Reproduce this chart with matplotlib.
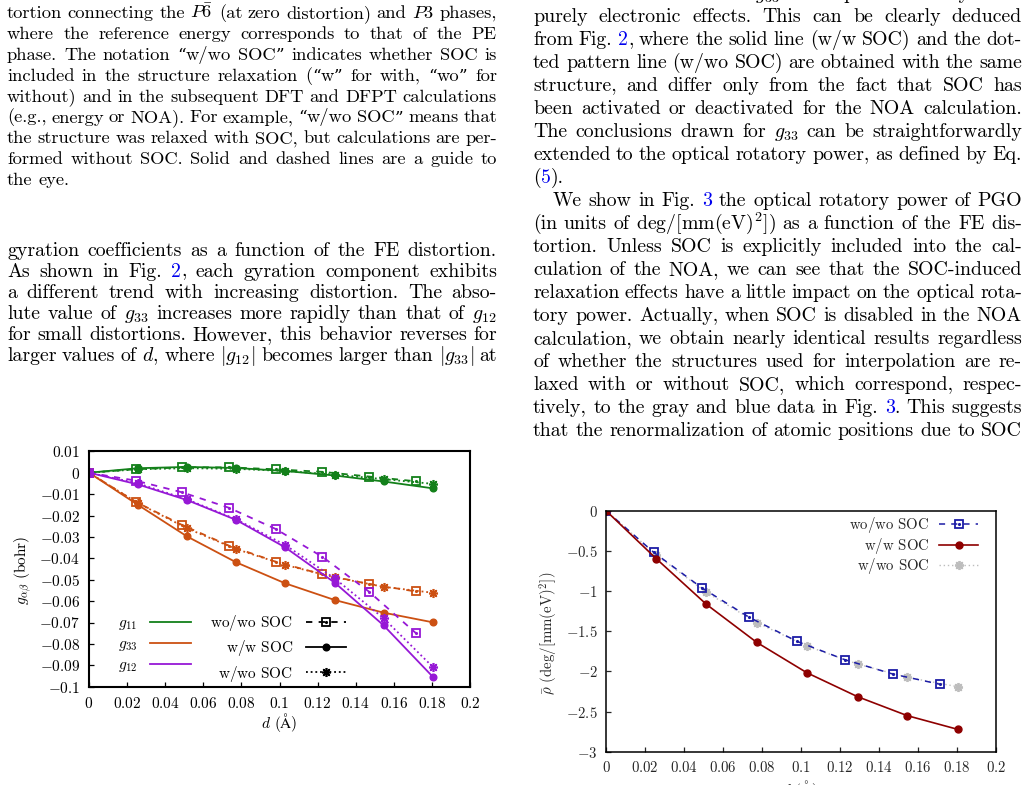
import re

import matplotlib
matplotlib.use("Agg")
import matplotlib.pyplot as plt
import numpy as np
from matplotlib.lines import Line2D
from matplotlib.ticker import FixedLocator, FuncFormatter

W, H = 1029, 785
plt.rcParams["mathtext.fontset"] = "cm"
plt.rcParams["font.family"] = ["cmr10", "DejaVu Serif"]
plt.rcParams["axes.unicode_minus"] = False

INK = "#000000"
LINK = "#0000ee"

# ---- data ----
d_wowo = [0, 0.0245, 0.049, 0.0735, 0.098, 0.1225, 0.147, 0.1715]
d_ww = [0, 0.0258, 0.0515, 0.0773, 0.103, 0.129, 0.1546, 0.1804]

g11_wowo = [0, 0.0016, 0.0025, 0.0025, 0.0016, 0.0004, -0.0018, -0.0040]
g11_ww = [0, 0.0021, 0.0027, 0.0022, 0.0008, -0.0013, -0.0041, -0.0073]
g11_wwo = [0, 0.0016, 0.0021, 0.0018, 0.0008, -0.0009, -0.0030, -0.0052]
g33_wowo = [0, -0.0136, -0.0245, -0.0341, -0.0416, -0.0475, -0.0520, -0.0555]
g33_ww = [0, -0.0151, -0.0298, -0.0419, -0.0517, -0.0595, -0.0654, -0.0699]
g33_wwo = [0, -0.0143, -0.0260, -0.0357, -0.0431, -0.0489, -0.0533, -0.0561]
g12_wowo = [0, -0.0037, -0.0092, -0.0164, -0.0263, -0.0393, -0.0556, -0.0749]
g12_ww = [0, -0.0055, -0.0128, -0.0221, -0.0349, -0.0514, -0.0713, -0.0953]
g12_wwo = [0, -0.0050, -0.0125, -0.0218, -0.0338, -0.0494, -0.0680, -0.0907]

rho_wowo = [0, -0.519, -0.958, -1.328, -1.627, -1.855, -2.033, -2.162]
rho_ww = [0, -0.598, -1.166, -1.639, -2.017, -2.315, -2.552, -2.722]
rho_wwo = [0, -0.552, -1.017, -1.394, -1.685, -1.909, -2.075, -2.191]

gyr_labels = [r"$g_{11}$", r"$g_{33}$", r"$g_{12}$"]
gyr_colors = ["#13801a", "#cc5012", "#9618d6"]
soc_labels = [r"wo$/$wo SOC", r"w$/$w SOC", r"w$/$wo SOC"]
d_label = r"$d$ ($\mathrm{\AA}$)"

# ---- page text ----
left_caption = [
    r"tortion connecting the $P\bar{6}$ (at zero distortion) and $P3$ phases,",
    "where the reference energy corresponds to that of the PE",
    "phase. The notation “w/wo SOC” indicates whether SOC is",
    "included in the structure relaxation (“w” for with, “wo” for",
    "without) and in the subsequent DFT and DFPT calculations",
    "(e.g., energy or NOA). For example, “w/wo SOC” means that",
    "the structure was relaxed with SOC, but calculations are per-",
    "formed without SOC. Solid and dashed lines are a guide to",
    "the eye.",
]
left_body = [
    "gyration coefficients as a function of the FE distortion.",
    "As shown in Fig. #2#, each gyration component exhibits",
    "a different trend with increasing distortion. The abso-",
    r"lute value of $g_{33}$ increases more rapidly than that of $g_{12}$",
    "for small distortions. However, this behavior reverses for",
    r"larger values of $d$, where $|g_{12}|$ becomes larger than $|g_{33}|$ at",
]
right_body = [
    r"mated contributions in $g_{33}$ arise predominantly from",
    "purely electronic effects. This can be clearly deduced",
    "from Fig. #2#, where the solid line (w/w SOC) and the dot-",
    "ted pattern line (w/wo SOC) are obtained with the same",
    "structure, and differ only from the fact that SOC has",
    "been activated or deactivated for the NOA calculation.",
    r"The conclusions drawn for $g_{33}$ can be straightforwardly",
    "extended to the optical rotatory power, as defined by Eq.",
    "(#5#).",
    "We show in Fig. #3# the optical rotatory power of PGO",
    r"(in units of deg/[mm(eV)$^2$]) as a function of the FE dis-",
    "tortion. Unless SOC is explicitly included into the cal-",
    "culation of the NOA, we can see that the SOC-induced",
    "relaxation effects have a little impact on the optical rota-",
    "tory power. Actually, when SOC is disabled in the NOA",
    "calculation, we obtain nearly identical results regardless",
    "of whether the structures used for interpolation are re-",
    "laxed with or without SOC, which correspond, respec-",
    "tively, to the gray and blue data in Fig. #3#. This suggests",
    "that the renormalization of atomic positions due to SOC",
]


def draw_line(fig, rend, line, x0, x1, y, size, justify=True):
    pieces = []
    for word in line.split(" "):
        segs = []
        for k, part in enumerate(word.split("#")):
            for bit in re.split(r"([“”])", part):
                if not bit:
                    continue
                kw = {"family": ["DejaVu Serif"], "fontsize": size * 0.92} if bit in "“”" else {"fontsize": size}
                t = fig.text(0, 1 - y / H, bit, va="baseline",
                             color=LINK if k % 2 else INK, **kw)
                segs.append((t, t.get_window_extent(rend).width))
        pieces.append(segs)
    widths = [sum(w for _, w in segs) for segs in pieces]
    if justify and len(pieces) > 1:
        gap = (x1 - x0 - sum(widths)) / (len(pieces) - 1)
    else:
        gap = size * 100 / 72 * 0.333
    x = x0
    for segs, wd in zip(pieces, widths):
        xx = x
        for t, w in segs:
            t.set_x(xx / W)
            xx += w
        x += wd + gap


def tick_fmt(v, pos):
    s = f"{v:.2f}".rstrip("0").rstrip(".")
    if s in ("-0", ""):
        s = "0"
    return "$" + s + "$"


def style_axes(ax, lw, color):
    for sp in ax.spines.values():
        sp.set_linewidth(lw)
    ax.tick_params(direction="in", length=3.6, width=0.9, labelsize=11, pad=6.5,
                   top=False, right=False, colors=color, labelcolor=color)
    ax.xaxis.set_major_formatter(FuncFormatter(tick_fmt))
    ax.yaxis.set_major_formatter(FuncFormatter(tick_fmt))


fig = plt.figure(figsize=(W / 100, H / 100), dpi=100)
rend = fig.canvas.get_renderer()

for i, line in enumerate(left_caption):
    draw_line(fig, rend, line, 7, 497, 18.0 + 20.9 * i, 13.3, justify=i < len(left_caption) - 1)
for i, line in enumerate(left_body):
    draw_line(fig, rend, line, 7, 497, 255.5 + 21.1 * i, 14.3)
for i, line in enumerate(right_body):
    x0 = 553 if line.startswith("We show") else 533
    draw_line(fig, rend, line, x0, 1022, -0.7 + 22.97 * i, 14.3, justify=not line.startswith("(#5"))

# ---- Fig. 2: gyration coefficients ----
ax1 = fig.add_axes([89 / W, 1 - 686.7 / H, (470 - 89) / W, (686.7 - 451.3) / H])
groups = [(g11_wowo, g11_ww, g11_wwo), (g33_wowo, g33_ww, g33_wwo), (g12_wowo, g12_ww, g12_wwo)]
for (wowo, ww, wwo), c in zip(groups, gyr_colors):
    ax1.plot(d_wowo, wowo, ls=(0, (3.5, 3.5)), lw=1.3, color=c, marker="s", ms=6, mfc="none", mew=1.3)
    ax1.plot(d_wowo, wowo, ls="none", marker=".", ms=2.5, color=c)
    ax1.plot(d_ww, wwo, ls=(0, (1, 1.6)), lw=1.3, color=c, marker=(8, 2, 0), ms=6.5, mew=1.2)
    ax1.plot(d_ww, ww, ls="-", lw=1.3, color=c, marker="o", ms=4.8)
ax1.set_xlim(0, 0.2)
ax1.set_ylim(-0.1, 0.01)
ax1.xaxis.set_major_locator(FixedLocator(np.linspace(0, 0.2, 11)))
ax1.yaxis.set_major_locator(FixedLocator(np.linspace(-0.1, 0.01, 12)))
style_axes(ax1, 1.5, INK)
ax1.set_xlabel(d_label, fontsize=11)
ax1.xaxis.set_label_coords((279 - 89) / (470 - 89), -(723 - 686.7) / (686.7 - 451.3))
ax1.xaxis.label.set_va("center")
ax1.set_ylabel(r"$g_{\alpha\beta}$ (bohr)", fontsize=11)
ax1.yaxis.set_label_coords((23 - 89) / (470 - 89), (686.7 - 570) / (686.7 - 451.3))
ax1.yaxis.label.set_va("center")

h_gyr = [Line2D([], [], color=c, lw=1.3) for c in gyr_colors]
h_soc = [
    (Line2D([], [], color="k", ls=(0, (3.5, 3.5)), lw=1.3, marker="s", ms=6, mfc="none", mew=1.3),
     Line2D([], [], ls="none", color="k", marker=".", ms=2.5)),
    Line2D([], [], color="k", lw=1.3, marker="o", ms=4.8),
    Line2D([], [], color="k", ls=(0, (1, 1.6)), lw=1.3, marker=(8, 2, 0), ms=6.5, mew=1.2),
]
ax1.legend(h_gyr + h_soc, gyr_labels + soc_labels, ncol=2, markerfirst=False, frameon=False,
           fontsize=11, loc="upper left", bbox_to_anchor=(118 / W, 1 - 613 / H),
           bbox_transform=fig.transFigure, borderpad=0, borderaxespad=0,
           handlelength=2.62, handletextpad=0.85, columnspacing=1.3, labelspacing=0.35,
           numpoints=1)

# ---- Fig. 3: optical rotatory power ----
GREY_TXT = "#262626"
ax2 = fig.add_axes([606 / W, 1 - 751.7 / H, (996 - 606) / W, (751.7 - 510.7) / H])
ax2.plot(d_ww, rho_wwo, ls=(0, (1, 2)), lw=1.0, color="#bdbdbd", marker=(8, 2, 0), ms=6.5, mew=1.3)
ax2.plot(d_wowo, rho_wowo, ls=(0, (4, 4)), lw=1.1, color="#1c1ca6", marker="s", ms=6, mfc="none", mew=1.3)
ax2.plot(d_wowo, rho_wowo, ls="none", marker=".", ms=2.5, color="#1c1ca6")
ax2.plot(d_ww, rho_ww, ls="-", lw=1.2, color="#8e0000", marker="o", ms=5)
ax2.set_xlim(0, 0.2)
ax2.set_ylim(-3, 0)
ax2.xaxis.set_major_locator(FixedLocator(np.linspace(0, 0.2, 11)))
ax2.yaxis.set_major_locator(FixedLocator(np.linspace(-3, 0, 7)))
style_axes(ax2, 1.1, GREY_TXT)
ax2.tick_params(labelsize=10.7, pad=6)
ax2.set_ylabel(r"$\bar{\rho}$ (deg/[mm(eV)$^2$])", fontsize=10.7, color=GREY_TXT)
ax2.yaxis.set_label_coords((548 - 606) / (996 - 606), (751.7 - 633) / (751.7 - 510.7))
ax2.yaxis.label.set_va("center")
ax2.set_xlabel(d_label, fontsize=10.7, color=GREY_TXT)
ax2.xaxis.set_label_coords((800 - 606) / (996 - 606), -(778 - 751.7) / (751.7 - 510.7))
ax2.xaxis.label.set_va("top")

h_rho = [
    (Line2D([], [], color="#1c1ca6", ls=(0, (4, 4)), lw=1.1, marker="s", ms=6, mfc="none", mew=1.3),
     Line2D([], [], ls="none", color="#1c1ca6", marker=".", ms=2.5)),
    Line2D([], [], color="#8e0000", lw=1.2, marker="o", ms=5),
    Line2D([], [], color="#bdbdbd", ls=(0, (1, 2)), lw=1.0, marker=(8, 2, 0), ms=6.5, mew=1.3),
]
leg2 = ax2.legend(h_rho, soc_labels, markerfirst=False, frameon=False, fontsize=10.7,
                  loc="upper right", bbox_to_anchor=(978 / W, 1 - 515 / H),
                  bbox_transform=fig.transFigure, borderpad=0, borderaxespad=0,
                  handlelength=2.62, handletextpad=0.65, labelspacing=0.05, numpoints=1)
for t in leg2.get_texts():
    t.set_color(GREY_TXT)

fig.savefig("out.png", dpi=100)
